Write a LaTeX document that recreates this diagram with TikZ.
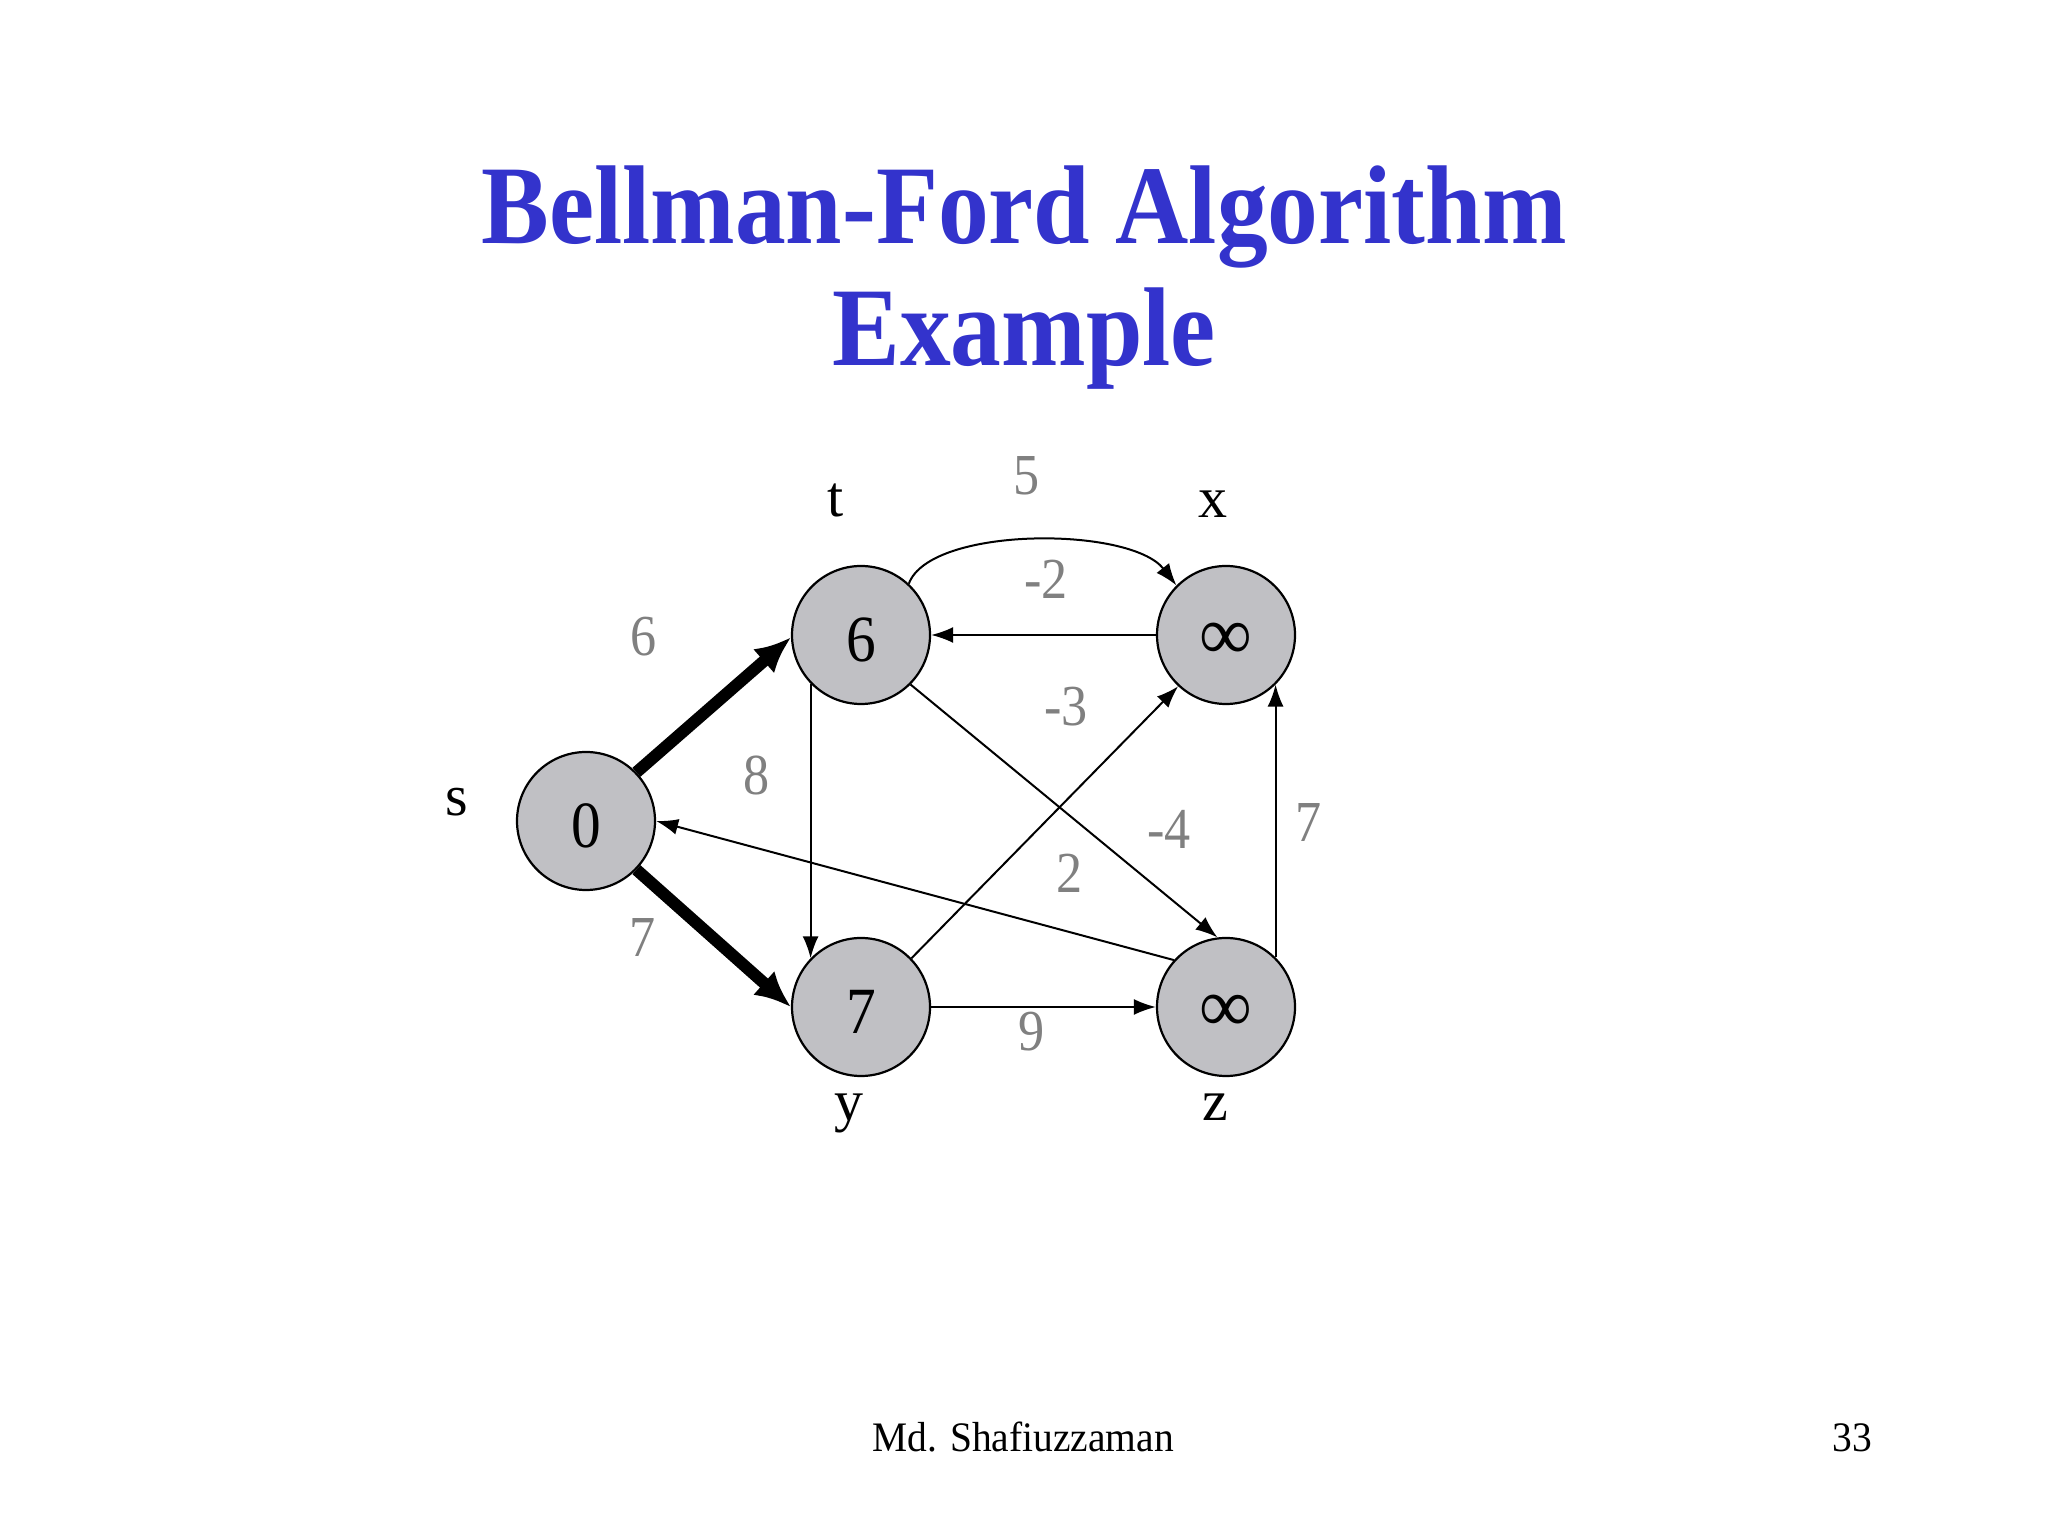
\documentclass[tikz,border=0pt]{standalone}
\usepackage{fontspec}
\setmainfont{Liberation Serif}
\usetikzlibrary{arrows.meta}
\definecolor{titleblue}{RGB}{51,51,204}
\definecolor{nodegray}{RGB}{192,192,196}
\definecolor{wgray}{RGB}{128,128,128}
\newcommand{\sqz}[2][0.9]{\scalebox{#1}[1]{#2}}
\newcommand{\vnum}[1]{\vphantom{#1}\smash{\raisebox{-2.5pt}{\scalebox{0.9}[1]{#1}}}}
\newcommand{\vinf}{\vphantom{∞}\smash{\raisebox{-4.5pt}{\scalebox{1.12}[1.15]{∞}}}}
\begin{document}
\begin{tikzpicture}[x=0.5pt,y=0.5pt,
  vtx/.style={circle,draw,line width=1.1pt,fill=nodegray,minimum size=69pt,inner sep=0pt,font=\fontsize{33}{33}\selectfont},
  lbl/.style={anchor=base,font=\fontsize{29}{29}\selectfont},
  wt/.style={anchor=base,text=wgray,font=\fontsize{29}{29}\selectfont},
  edgeline/.style={line width=1pt,-{Latex[length=11pt,width=8pt]}},
  treeline/.style={line width=6pt,-{Latex[length=18pt,width=16pt]}}]
\useasboundingbox[fill=white] (0,0) rectangle (2048,1536);
% title
\node[anchor=base,text=titleblue,font=\fontsize{56}{56}\selectfont\bfseries] (title1) at (1024,1292) {\sqz[0.906]{Bellman-Ford Algorithm}};
\node[anchor=base,text=titleblue,font=\fontsize{56}{56}\selectfont\bfseries] (title2) at (1024,1170) {\sqz[0.906]{Example}};
% vertices
\node[vtx] (s) at (586,715) {\vnum{0}};
\node[vtx] (t) at (861,901) {\vnum{6}};
\node[vtx] (x) at (1226,901) {\vinf};
\node[vtx] (y) at (861,529) {\vnum{7}};
\node[vtx] (z) at (1226,529) {\vinf};
% vertex labels
\node[lbl] (ls) at (457,720) {s};
\node[lbl] (lt) at (836,1019) {t};
\node[lbl] (lx) at (1213,1018) {x};
\node[lbl] (ly) at (849,415) {y};
\node[lbl] (lz) at (1215,415) {z};
% edges
\draw[treeline] (s.44) -- (t.182);
\draw[treeline] (s.-44) -- (y.180);
\draw[edgeline] (t.47) .. controls (930,1010) and (1130,1010) .. (x.135);
\draw[edgeline] (x.180) -- (t.0);
\draw[edgeline] (t.224) -- (y.136);
\draw[edgeline] (t.-45) -- (z.97);
\draw[edgeline] (y.44) -- (x.227);
\draw[edgeline] (z.138) -- (s.0);
\draw[edgeline] (y.0) -- (z.180);
\draw[edgeline] (z.45) -- (x.-45);
% weights
\node[wt] (w6) at (644,880) {\sqz{6}};
\node[wt] (w7a) at (643,579) {\sqz{7}};
\node[wt] (w8) at (757,741) {\sqz{8}};
\node[wt] (w5) at (1027,1041) {\sqz{5}};
\node[wt] (wm2) at (1046,937) {\sqz{-2}};
\node[wt] (wm3) at (1066,810) {\sqz{-3}};
\node[wt] (wm4) at (1169,687) {\sqz{-4}};
\node[wt] (w2) at (1070,643) {\sqz{2}};
\node[wt] (w7b) at (1309,694) {\sqz{7}};
\node[wt] (w9) at (1032,485) {\sqz{9}};
% footer
\node[anchor=base,font=\fontsize{21}{21}\selectfont] (foot) at (1023,85) {\sqz[0.94]{Md. Shafiuzzaman}};
\node[anchor=base,font=\fontsize{21}{21}\selectfont] (page) at (1852,85) {\sqz[0.94]{33}};
\end{tikzpicture}
\end{document}
